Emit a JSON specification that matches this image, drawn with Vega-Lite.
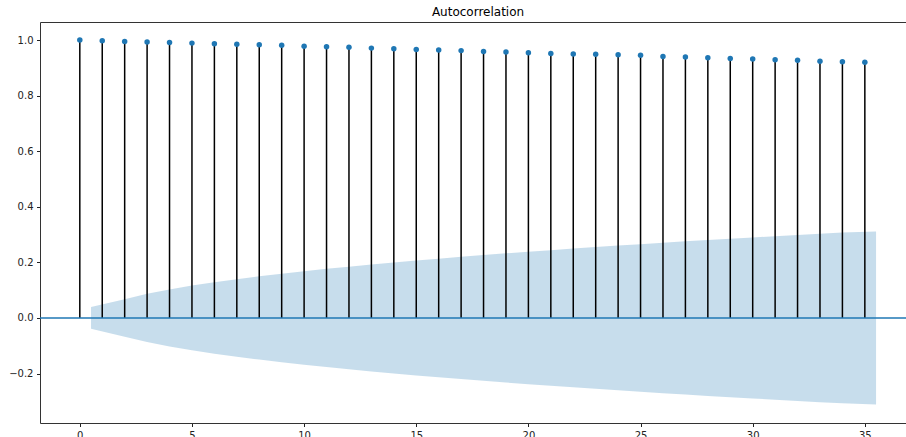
{
  "$schema": "https://vega.github.io/schema/vega-lite/v6.json",
  "width": 866,
  "height": 401,
  "autosize": {"type": "none"},
  "padding": {"left": 40, "top": 22, "right": 0, "bottom": 14},
  "background": "white",
  "title": {"text": "Autocorrelation", "font": "DejaVu Sans", "fontSize": 12, "fontWeight": "normal", "color": "#000000", "offset": 3, "dx": 5, "anchor": "middle"},
  "config": {
    "view": {"stroke": null},
    "axis": {"labelFont": "DejaVu Sans", "labelFontSize": 10, "labelColor": "#222222", "tickColor": "#222222", "domainColor": "#333333", "domainWidth": 1, "tickSize": 3.5, "tickWidth": 1, "labelPadding": 3.5, "grid": false, "title": null}
  },
  "datasets": {
    "acf": [
      {"lag": 0, "acf": 1.0}, {"lag": 1, "acf": 0.9975}, {"lag": 2, "acf": 0.995}, {"lag": 3, "acf": 0.993},
      {"lag": 4, "acf": 0.991}, {"lag": 5, "acf": 0.989}, {"lag": 6, "acf": 0.987}, {"lag": 7, "acf": 0.985},
      {"lag": 8, "acf": 0.983}, {"lag": 9, "acf": 0.981}, {"lag": 10, "acf": 0.978}, {"lag": 11, "acf": 0.976},
      {"lag": 12, "acf": 0.974}, {"lag": 13, "acf": 0.971}, {"lag": 14, "acf": 0.969}, {"lag": 15, "acf": 0.966},
      {"lag": 16, "acf": 0.964}, {"lag": 17, "acf": 0.962}, {"lag": 18, "acf": 0.959}, {"lag": 19, "acf": 0.957},
      {"lag": 20, "acf": 0.954}, {"lag": 21, "acf": 0.952}, {"lag": 22, "acf": 0.95}, {"lag": 23, "acf": 0.949},
      {"lag": 24, "acf": 0.947}, {"lag": 25, "acf": 0.945}, {"lag": 26, "acf": 0.941}, {"lag": 27, "acf": 0.939},
      {"lag": 28, "acf": 0.936}, {"lag": 29, "acf": 0.934}, {"lag": 30, "acf": 0.932}, {"lag": 31, "acf": 0.929},
      {"lag": 32, "acf": 0.927}, {"lag": 33, "acf": 0.924}, {"lag": 34, "acf": 0.922}, {"lag": 35, "acf": 0.92}
    ],
    "band": [
      {"lag": 0.5, "hi": 0.039, "lo": -0.039}, {"lag": 2, "hi": 0.0674, "lo": -0.0674}, {"lag": 3, "hi": 0.0869, "lo": -0.0869},
      {"lag": 4, "hi": 0.1028, "lo": -0.1028}, {"lag": 5, "hi": 0.1164, "lo": -0.1164}, {"lag": 6, "hi": 0.1285, "lo": -0.1285},
      {"lag": 7, "hi": 0.1396, "lo": -0.1396}, {"lag": 8, "hi": 0.1498, "lo": -0.1498}, {"lag": 9, "hi": 0.1593, "lo": -0.1593},
      {"lag": 10, "hi": 0.1682, "lo": -0.1682}, {"lag": 11, "hi": 0.1767, "lo": -0.1767}, {"lag": 12, "hi": 0.1847, "lo": -0.1847},
      {"lag": 13, "hi": 0.1923, "lo": -0.1923}, {"lag": 14, "hi": 0.1997, "lo": -0.1997}, {"lag": 15, "hi": 0.2067, "lo": -0.2067},
      {"lag": 16, "hi": 0.2135, "lo": -0.2135}, {"lag": 17, "hi": 0.22, "lo": -0.22}, {"lag": 18, "hi": 0.2263, "lo": -0.2263},
      {"lag": 19, "hi": 0.2324, "lo": -0.2324}, {"lag": 20, "hi": 0.2383, "lo": -0.2383}, {"lag": 21, "hi": 0.244, "lo": -0.244},
      {"lag": 22, "hi": 0.2496, "lo": -0.2496}, {"lag": 23, "hi": 0.2551, "lo": -0.2551}, {"lag": 24, "hi": 0.2604, "lo": -0.2604},
      {"lag": 25, "hi": 0.2656, "lo": -0.2656}, {"lag": 26, "hi": 0.2706, "lo": -0.2706}, {"lag": 27, "hi": 0.2756, "lo": -0.2756},
      {"lag": 28, "hi": 0.2804, "lo": -0.2804}, {"lag": 29, "hi": 0.2851, "lo": -0.2851}, {"lag": 30, "hi": 0.2897, "lo": -0.2897},
      {"lag": 31, "hi": 0.2942, "lo": -0.2942}, {"lag": 32, "hi": 0.2987, "lo": -0.2987}, {"lag": 33, "hi": 0.303, "lo": -0.303},
      {"lag": 34, "hi": 0.3073, "lo": -0.3073}, {"lag": 35.5, "hi": 0.3114, "lo": -0.3114}
    ]
  },
  "resolve": {"axis": {"x": "independent"}},
  "layer": [
    {
      "data": {"name": "band"},
      "mark": {"type": "area", "color": "#1f77b4", "opacity": 0.25, "interpolate": "linear"},
      "encoding": {
        "x": {"field": "lag", "type": "quantitative", "scale": {"domain": [-1.775, 36.835], "nice": false, "zero": false},
              "axis": {"orient": "bottom", "values": [0, 5, 10, 15, 20, 25, 30, 35], "format": "d"}},
        "y": {"field": "hi", "type": "quantitative", "scale": {"domain": [-0.378, 1.065], "nice": false, "zero": false},
              "axis": {"orient": "left", "values": [-0.2, 0, 0.2, 0.4, 0.6, 0.8, 1.0], "format": ".1f"}},
        "y2": {"field": "lo"}
      }
    },
    {
      "data": {"name": "acf"},
      "mark": {"type": "rule", "color": "#000000", "strokeWidth": 1.5},
      "encoding": {
        "x": {"field": "lag", "type": "quantitative", "axis": {"orient": "top", "labels": false, "ticks": false, "domain": true}},
        "y": {"field": "acf", "type": "quantitative"},
        "y2": {"datum": 0}
      }
    },
    {
      "data": {"values": [{"z": 0}]},
      "mark": {"type": "rule", "color": "#1f77b4", "strokeWidth": 1.5},
      "encoding": {"y": {"field": "z", "type": "quantitative"}}
    },
    {
      "data": {"name": "acf"},
      "mark": {"type": "circle", "color": "#1f77b4", "opacity": 1, "size": 30},
      "encoding": {
        "x": {"field": "lag", "type": "quantitative", "axis": null},
        "y": {"field": "acf", "type": "quantitative"}
      }
    }
  ]
}
